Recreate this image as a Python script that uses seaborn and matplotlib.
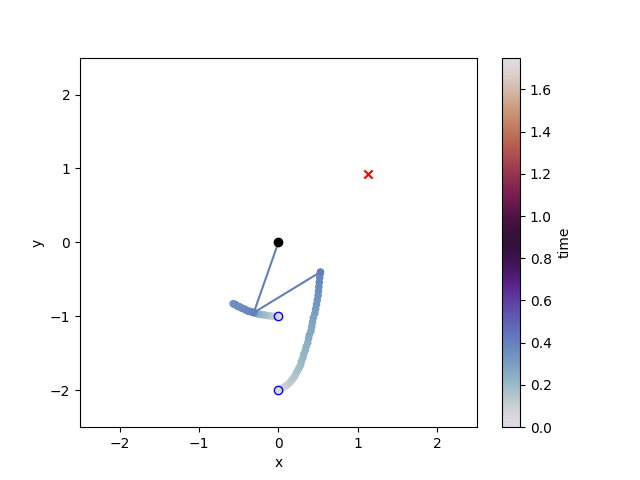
import numpy as np
import pandas as pd
import seaborn as sns
import matplotlib.pyplot as plt
from matplotlib import cm, colors

# trajectory of the first bob
m1_x = [0.00, -0.02, -0.04, -0.07, -0.10, -0.13, -0.16, -0.19, -0.22, -0.25,
        -0.28, -0.31, -0.34, -0.37, -0.40, -0.43, -0.46, -0.49, -0.52, -0.55,
        -0.57, -0.54, -0.50, -0.46, -0.42, -0.38, -0.34, -0.31]
m1_y = [-1.00, -1.00, -1.00, -1.00, -0.995, -0.99, -0.985, -0.98, -0.975, -0.97,
        -0.96, -0.95, -0.94, -0.93, -0.92, -0.90, -0.89, -0.87, -0.86, -0.84,
        -0.83, -0.84, -0.87, -0.89, -0.91, -0.93, -0.94, -0.95]
m1_t = [0.00, 0.03, 0.06, 0.09, 0.12, 0.15, 0.17, 0.19, 0.21, 0.23,
        0.25, 0.26, 0.27, 0.28, 0.29, 0.30, 0.31, 0.32, 0.33, 0.34,
        0.35, 0.355, 0.36, 0.365, 0.37, 0.38, 0.39, 0.40]

# trajectory of the second bob
m2_x = [0.00, 0.025, 0.05, 0.08, 0.11, 0.14, 0.17, 0.20, 0.22, 0.24,
        0.26, 0.28, 0.29, 0.31, 0.32, 0.34, 0.35, 0.37, 0.38, 0.39,
        0.41, 0.42, 0.43, 0.44, 0.46, 0.47, 0.48, 0.49, 0.50, 0.505,
        0.51, 0.515, 0.52, 0.525, 0.53]
m2_y = [-2.00, -1.99, -1.97, -1.95, -1.93, -1.90, -1.86, -1.82, -1.78, -1.74,
        -1.70, -1.66, -1.61, -1.56, -1.51, -1.46, -1.41, -1.36, -1.30, -1.25,
        -1.20, -1.14, -1.08, -1.02, -0.96, -0.90, -0.84, -0.78, -0.72, -0.66,
        -0.60, -0.54, -0.48, -0.43, -0.40]
m2_t = [0.00, 0.03, 0.06, 0.08, 0.10, 0.12, 0.135, 0.15, 0.16, 0.17,
        0.18, 0.19, 0.20, 0.21, 0.215, 0.22, 0.23, 0.24, 0.25, 0.26,
        0.265, 0.27, 0.28, 0.29, 0.30, 0.31, 0.32, 0.33, 0.34, 0.35,
        0.36, 0.37, 0.38, 0.39, 0.41]

start_x = [0.0, 0.0]
start_y = [-1.0, -2.0]
target = (1.13, 0.92)
t_max = 1.75

df = pd.concat([
    pd.DataFrame({'x': m1_x, 'y': m1_y, 'time': m1_t}),
    pd.DataFrame({'x': m2_x, 'y': m2_y, 'time': m2_t}),
])

norm = colors.Normalize(0, t_max)
cmap = plt.get_cmap('twilight')

fig, ax = plt.subplots(figsize=(6.4, 4.8), dpi=100)
sns.scatterplot(data=df, x='x', y='y', hue='time', palette='twilight',
                hue_norm=(0, t_max), s=30, linewidth=0, legend=False, ax=ax)

rod_col = cmap(norm(m2_t[-1]))
ax.plot([0, m1_x[-1], m2_x[-1]], [0, m1_y[-1], m2_y[-1]], color=rod_col, lw=1.5)
ax.plot([0], [0], 'o', color='black')
ax.plot(start_x, start_y, 'o', mfc='none', mec='blue')
ax.scatter([target[0]], [target[1]], marker='x', color='red')

ax.set_xlim(-2.5, 2.5)
ax.set_ylim(-2.5, 2.5)
ax.set_xlabel('x')
ax.set_ylabel('y')

sm = cm.ScalarMappable(norm=norm, cmap=cmap)
fig.colorbar(sm, ax=ax, label='time')

plt.savefig('out.png')
